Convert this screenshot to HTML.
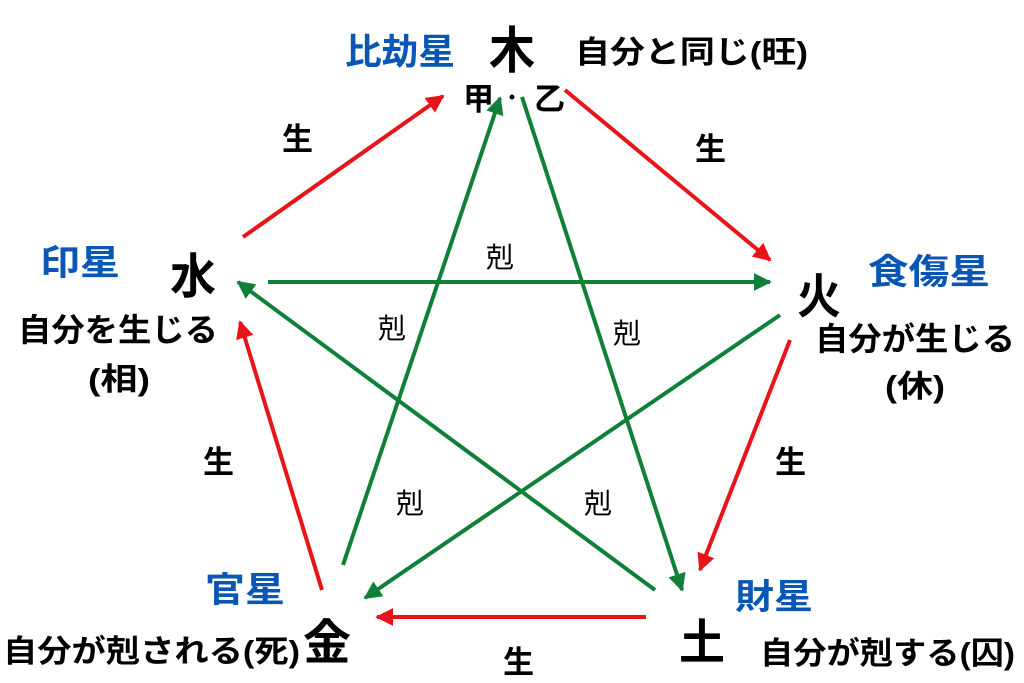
<!DOCTYPE html>
<html><head><meta charset="utf-8"><style>
html,body{margin:0;padding:0;background:#fff}
svg{display:block}
text{font-family:"Liberation Sans","Noto Sans CJK JP",sans-serif;font-weight:bold;fill:#000}
.b{fill:#0a56b4}
.k{font-weight:normal;font-size:28px}
</style></head><body>
<svg width="1024" height="683" viewBox="0 0 1024 683" xmlns="http://www.w3.org/2000/svg">
<defs>
<marker id="r" viewBox="0 0 10 10" refX="9" refY="5" markerWidth="4.5" markerHeight="4.5" orient="auto" markerUnits="strokeWidth"><path d="M0,0 L10,5 L0,10 z" fill="#e8141a"/></marker>
<marker id="g" viewBox="0 0 10 10" refX="9" refY="5" markerWidth="4.5" markerHeight="4.5" orient="auto" markerUnits="strokeWidth"><path d="M0,0 L10,5 L0,10 z" fill="#108038"/></marker>
</defs>
<g stroke="#e8141a" stroke-width="4" fill="none">
<line x1="243" y1="237" x2="443" y2="96" marker-end="url(#r)"/>
<line x1="565" y1="90" x2="770" y2="260" marker-end="url(#r)"/>
<line x1="790" y1="340" x2="700" y2="570" marker-end="url(#r)"/>
<line x1="646" y1="617" x2="377" y2="617" marker-end="url(#r)"/>
<line x1="322" y1="590" x2="240" y2="322" marker-end="url(#r)"/>
</g>
<g stroke="#108038" stroke-width="4" fill="none">
<line x1="268" y1="282" x2="770" y2="282" marker-end="url(#g)"/>
<line x1="343" y1="565" x2="500" y2="98" marker-end="url(#g)"/>
<line x1="522" y1="97" x2="682" y2="590" marker-end="url(#g)"/>
<line x1="780" y1="315" x2="365" y2="598" marker-end="url(#g)"/>
<line x1="655" y1="590" x2="238" y2="282" marker-end="url(#g)"/>
</g>
<text x="345" y="64" font-size="36" class="b" textLength="110" lengthAdjust="spacingAndGlyphs">比劫星</text>
<text x="489" y="68" font-size="50" textLength="46" lengthAdjust="spacingAndGlyphs">木</text>
<text x="575" y="63" font-size="31" textLength="233" lengthAdjust="spacingAndGlyphs">自分と同じ(旺)</text>
<text x="463" y="110" font-size="31">甲</text>
<circle cx="512" cy="97" r="2.5" fill="#000"/>
<text x="534" y="110" font-size="31">乙</text>

<text x="40" y="275" font-size="35" class="b" textLength="80" lengthAdjust="spacingAndGlyphs">印星</text>
<text x="170" y="293" font-size="48" textLength="46" lengthAdjust="spacingAndGlyphs">水</text>
<text x="18" y="341" font-size="32" textLength="200" lengthAdjust="spacingAndGlyphs">自分を生じる</text>
<text x="88" y="390" font-size="31" textLength="62" lengthAdjust="spacingAndGlyphs">(相)</text>

<text x="868" y="284" font-size="35" class="b" textLength="122" lengthAdjust="spacingAndGlyphs">食傷星</text>
<text x="797" y="313" font-size="48" textLength="44" lengthAdjust="spacingAndGlyphs">火</text>
<text x="815" y="350" font-size="32" textLength="200" lengthAdjust="spacingAndGlyphs">自分が生じる</text>
<text x="885" y="397" font-size="31" textLength="60" lengthAdjust="spacingAndGlyphs">(休)</text>

<text x="205" y="602" font-size="35" class="b" textLength="80" lengthAdjust="spacingAndGlyphs">官星</text>
<text x="303" y="659" font-size="48" textLength="48" lengthAdjust="spacingAndGlyphs">金</text>
<text x="3" y="662" font-size="31" textLength="297" lengthAdjust="spacingAndGlyphs">自分が剋される(死)</text>

<text x="735" y="609" font-size="35" class="b" textLength="78" lengthAdjust="spacingAndGlyphs">財星</text>
<text x="679" y="659" font-size="48" textLength="46" lengthAdjust="spacingAndGlyphs">土</text>
<text x="760" y="664" font-size="31" textLength="255" lengthAdjust="spacingAndGlyphs">自分が剋する(囚)</text>

<text x="282" y="150" font-size="31">生</text>
<text x="695" y="160" font-size="31">生</text>
<text x="203" y="473" font-size="31">生</text>
<text x="775" y="473" font-size="31">生</text>
<text x="503" y="673" font-size="31">生</text>

<text x="486" y="267" class="k">剋</text>
<text x="378" y="338" class="k">剋</text>
<text x="613" y="343" class="k">剋</text>
<text x="396" y="513" class="k">剋</text>
<text x="584" y="513" class="k">剋</text>
</svg>
</body></html>
